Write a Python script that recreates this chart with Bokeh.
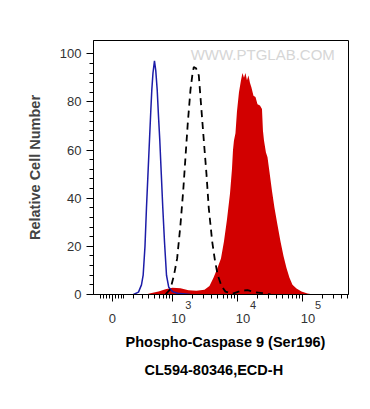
import math
from bokeh.plotting import figure
from bokeh.models import LinearAxis, FixedTicker, Range1d, Title, Label, CustomLabelingPolicy
from bokeh.embed import file_html
from bokeh.resources import INLINE

# ---- data (x in display units of the biexponential axis: 10^3 -> 3, 10^4 -> 4 ...) ----
blue_x = [2.400, 2.477, 2.523, 2.549, 2.577, 2.600, 2.623, 2.646, 2.666, 2.682, 2.700,
          2.723, 2.743, 2.765, 2.785, 2.805, 2.828, 2.851, 2.877, 2.908, 2.943, 3.000,
          3.077, 3.200, 3.277]
blue_y = [0, 1, 4, 8, 20, 36, 50, 64, 76, 85, 92,
          97, 93, 85, 74, 64, 50, 36, 22, 8, 3, 1.2,
          0.5, 0.2, 0]

dash_x = [2.892, 2.969, 3.023, 3.072, 3.123, 3.165, 3.200, 3.235, 3.277, 3.305, 3.328,
          3.362, 3.405, 3.442, 3.482, 3.523, 3.558, 3.611, 3.654, 3.697, 3.754, 3.815,
          3.923, 4.046, 4.154, 4.262, 4.385, 4.508]
dash_y = [0, 2.3, 8, 15, 29, 43, 57, 71, 85, 91, 94.5,
          94, 91, 78, 64, 50, 36, 22, 14, 8, 3.5, 1.2,
          0.3, 1.5, 1.8, 1, 0.6, 0]

red_x = [2.585, 2.662, 2.785, 2.892, 3.000, 3.123, 3.246, 3.369, 3.492, 3.569, 3.631,
         3.692, 3.746, 3.792, 3.838, 3.885, 3.915, 3.931, 3.946, 3.969, 3.992, 4.023,
         4.054, 4.077, 4.100, 4.123, 4.146, 4.169, 4.192, 4.215, 4.246, 4.277, 4.308,
         4.346, 4.377, 4.392, 4.408, 4.438, 4.462, 4.492, 4.531, 4.569, 4.615, 4.662,
         4.708, 4.754, 4.800, 4.846, 4.908, 4.985, 5.077, 5.169]
red_y = [0, 0.5, 1.2, 2.2, 2.8, 2.6, 1.8, 1.6, 2, 3.5, 7,
         11, 15, 22, 31, 42, 52, 60, 64, 67, 76, 84,
         89, 92, 90, 92, 89, 91, 88, 86, 82.5, 82, 79,
         78.5, 77, 68, 64, 59, 57, 51, 43, 36, 29, 22,
         16, 11, 7, 4, 2.5, 1.2, 0.4, 0]

x_major_values = [0, 1e3, 1e4, 1e5]
x_base_labels = ["0", "10", "10", "10"]
x_exp_labels = ["3", "4", "5"]
x_minor_values = ([-100, -75, -50, -25, 25, 50, 75, 100]
                  + [k * 100 for k in range(2, 10)]
                  + [k * 1000 for k in range(2, 10)]
                  + [k * 10000 for k in range(2, 10)]
                  + [k * 100000 for k in range(2, 6)])
y_major = [0, 20, 40, 60, 80, 100]
y_minor = [v for v in range(0, 101, 4) if v % 20 != 0]

W = 119.0
def disp(v):
    return math.asinh(v / (2 * W)) / math.log(10) + math.log10(W)

FONT = "Liberation Sans"

p = figure(width=362, height=401, output_backend="svg", toolbar_location=None,
           x_axis_type=None, y_axis_type=None,
           x_range=Range1d(1.785, 5.708), y_range=Range1d(0, 105.5),
           min_border_left=93, min_border_right=14, min_border_top=40, min_border_bottom=107)
p.outline_line_color = "black"
p.outline_line_width = 1
p.background_fill_color = "white"
p.border_fill_color = "white"

# curves
p.varea(x=red_x, y1=0, y2=red_y, fill_color="#d20000")
p.line(blue_x, blue_y, line_color="#1c1ca8", line_width=1.5)
p.line(dash_x, dash_y, line_color="black", line_width=1.8, line_dash="7 5")

# watermark
p.add_layout(Label(x=3.28, y=99.8, text="WWW.PTGLAB.COM", text_color="#d6d6d6",
                   text_font=FONT, text_font_size="15px", text_baseline="middle"))

# y axis
yax = LinearAxis(ticker=FixedTicker(ticks=y_major, minor_ticks=y_minor),
                 axis_label="Relative Cell Number",
                 axis_label_text_font=FONT, axis_label_text_font_style="bold",
                 axis_label_text_font_size="14.5px", axis_label_standoff=14,
                 major_label_text_font=FONT, major_label_text_font_size="13px",
                 major_label_text_color="#333333", major_label_standoff=5,
                 major_tick_in=0, major_tick_out=7, minor_tick_in=0, minor_tick_out=4,
                 axis_line_color="black", major_tick_line_color="black",
                 minor_tick_line_color="black")
p.add_layout(yax, "left")

# x axis: tick marks only (labels suppressed by policy)
no_labels = CustomLabelingPolicy(code="""
const n = indices.size
for (let i = 0; i < n; i++) { indices.unset(i) }
return indices
""")
major_pos = [disp(v) for v in x_major_values]
xax_ticks = LinearAxis(ticker=FixedTicker(ticks=major_pos,
                                          minor_ticks=[disp(v) for v in x_minor_values]),
                       major_label_policy=no_labels,
                       major_label_text_font_size="1px", major_label_standoff=0,
                       major_tick_in=0, major_tick_out=7, minor_tick_in=0, minor_tick_out=4,
                       axis_line_color="black", major_tick_line_color="black",
                       minor_tick_line_color="black")
p.add_layout(xax_ticks, "below")

# x axis: exponents
exp_shift = 0.238
exp_pos = [round(pos + exp_shift, 6) for pos in major_pos[1:]]
xax_exp = LinearAxis(ticker=FixedTicker(ticks=exp_pos, minor_ticks=[]),
                     major_label_overrides={pos: lab for pos, lab in zip(exp_pos, x_exp_labels)},
                     major_label_text_font=FONT, major_label_text_font_size="11px",
                     major_label_text_color="#333333", major_label_standoff=-5,
                     major_tick_out=0, major_tick_in=0, minor_tick_out=0, minor_tick_in=0,
                     axis_line_color=None, major_tick_line_color=None, minor_tick_line_color=None)
p.add_layout(xax_exp, "below")

# x axis: bases
base_shift = [0.0, 0.085, 0.085, 0.085]
base_pos = [round(pos + s, 6) for pos, s in zip(major_pos, base_shift)]
xax_base = LinearAxis(ticker=FixedTicker(ticks=base_pos, minor_ticks=[]),
                      major_label_overrides={pos: lab for pos, lab in zip(base_pos, x_base_labels)},
                      major_label_text_font=FONT, major_label_text_font_size="13px",
                      major_label_text_color="#333333", major_label_standoff=2,
                      major_tick_out=0, major_tick_in=0, minor_tick_out=0, minor_tick_in=0,
                      axis_line_color=None, major_tick_line_color=None, minor_tick_line_color=None)
p.add_layout(xax_base, "below")

p.add_layout(Title(text="Phospho-Caspase 9 (Ser196)", align="left", offset=32, standoff=12,
                   text_font=FONT, text_font_size="14.5px", text_font_style="bold",
                   text_color="black"), "below")
p.add_layout(Title(text="CL594-80346,ECD-H", align="left", offset=51, standoff=9,
                   text_font=FONT, text_font_size="14.5px", text_font_style="bold",
                   text_color="black"), "below")

open("out.html", "w").write(file_html(p, INLINE))
